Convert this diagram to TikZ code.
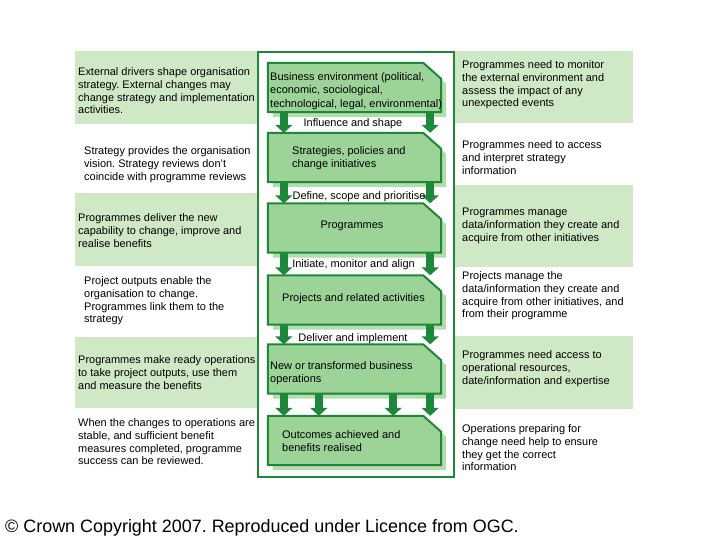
\documentclass[tikz,border=0pt]{standalone}
\usepackage{fontspec}
\setmainfont{Liberation Sans}
\usetikzlibrary{arrows.meta}
\frenchspacing
\definecolor{bandgreen}{RGB}{207,233,199}
\definecolor{boxfill}{RGB}{156,212,152}
\definecolor{shadowgreen}{RGB}{178,221,172}
\definecolor{darkgreen}{RGB}{30,135,58}
\tikzset{
  txt/.style={font=\fontsize{11}{13}\selectfont, align=left, inner sep=0pt, anchor=north west},
  boxtxt/.style={font=\fontsize{11}{13.5}\selectfont, align=left, inner sep=0pt, anchor=north west},
  lbl/.style={font=\fontsize{11}{13}\selectfont, inner sep=0pt},
  boxnode/.style={minimum width=173bp, minimum height=49bp, inner sep=0pt, draw=none},
  boxline/.style={draw=darkgreen, fill=boxfill, line width=2bp, line join=miter},
  bigarrow/.style={draw=darkgreen, line width=8bp, -{Triangle[width=17bp,length=8bp]}},
}
\newcommand\chambox[1]{%
  \fill[shadowgreen] ([xshift=5bp,yshift=-5bp]#1.south west) -- ([xshift=5bp,yshift=-5bp]#1.north west)
    -- ([xshift=-13bp,yshift=-5bp]#1.north east) -- ([xshift=5bp,yshift=-21bp]#1.north east)
    -- ([xshift=5bp,yshift=-5bp]#1.south east) -- cycle;
  \draw[boxline] (#1.south west) -- (#1.north west) -- ([xshift=-18bp]#1.north east)
    -- ([yshift=-16bp]#1.north east) -- (#1.south east) -- cycle;}
\begin{document}
\begin{tikzpicture}[x=1bp,y=-1bp]
\useasboundingbox (0,0) rectangle (720,540);
% bands
\fill[bandgreen] (75,51) rectangle (258,124);
\fill[bandgreen] (75,193) rectangle (258,266);
\fill[bandgreen] (75,337) rectangle (258,408);
\fill[bandgreen] (455,51) rectangle (633,123);
\fill[bandgreen] (455,185) rectangle (633,267);
\fill[bandgreen] (455,336) rectangle (633,409);
% frame
\draw[darkgreen, line width=2bp] (258,52) rectangle (454,477);
% boxes
\node[boxnode] (b1) at (354.5,87.5) {};
\node[boxnode] (b2) at (354.5,157.5) {};
\node[boxnode] (b3) at (354.5,228) {};
\node[boxnode] (b4) at (354.5,300) {};
\node[boxnode] (b5) at (354.5,369) {};
\node[boxnode] (b6) at (354.5,440.5) {};
\chambox{b1}\chambox{b2}\chambox{b3}\chambox{b4}\chambox{b5}\chambox{b6}
% box texts
\node[boxtxt] (t1) at (270,72) {Business environment (political,\\economic, sociological,\\technological, legal, environmental)};
\node[boxtxt] (t2) at (292,146) {Strategies, policies and\\change initiatives};
\node[lbl] (t3) at (352,225.5) {Programmes};
\node[lbl] (t4) at (353.5,298.5) {Projects and related activities};
\node[boxtxt] (t5) at (270,361) {New or transformed business\\operations};
\node[boxtxt] (t6) at (282,430) {Outcomes achieved and\\benefits realised};
% arrows
\foreach \a/\b in {b1/b2,b2/b3,b3/b4,b4/b5}{
  \draw[bigarrow] ([xshift=16bp]\a.south west) -- ([xshift=16bp]\b.north west);
  \draw[bigarrow] ([xshift=-11bp]\a.south east) -- ([xshift=-11bp]\b.north east);
}
\draw[bigarrow] ([xshift=16bp]b5.south west) -- ([xshift=16bp]b6.north west);
\draw[bigarrow] ([xshift=51bp]b5.south west) -- ([xshift=51bp]b6.north west);
\draw[bigarrow] ([xshift=-48bp]b5.south east) -- ([xshift=-48bp]b6.north east);
\draw[bigarrow] ([xshift=-11bp]b5.south east) -- ([xshift=-11bp]b6.north east);
% arrow labels
\node[lbl] (l1) at (353,123.5) {Influence and shape};
\node[lbl] (l2) at (359,196.5) {Define, scope and prioritise};
\node[lbl] (l3) at (353.5,264.5) {Initiate, monitor and align};
\node[lbl] (l4) at (353,338.5) {Deliver and implement};
% left texts
\node[txt] (L1) at (78,67) {External drivers shape organisation\\strategy. External changes may\\change strategy and implementation\\activities.};
\node[txt] (L2) at (84,146) {Strategy provides the organisation\\vision. Strategy reviews don't\\coincide with programme reviews};
\node[txt] (L3) at (78,213) {Programmes deliver the new\\capability to change, improve and\\realise benefits};
\node[txt] (L4) at (84,276) {Project outputs enable the\\organisation to change.\\Programmes link them to the\\strategy};
\node[txt] (L5) at (78,355) {Programmes make ready operations\\to take project outputs, use them\\and measure the benefits};
\node[txt] (L6) at (78,418) {When the changes to operations are\\stable, and sufficient benefit\\measures completed, programme\\success can be reviewed.};
% right texts
\node[txt] (R1) at (462,60) {Programmes need to monitor\\the external environment and\\assess the impact of any\\unexpected events};
\node[txt] (R2) at (462,140) {Programmes need to access\\and interpret strategy\\information};
\node[txt] (R3) at (462,208) {Programmes manage\\data/information they create and\\acquire from other initiatives};
\node[txt] (R4) at (462,271) {Projects manage the\\data/information they create and\\acquire from other initiatives, and\\from their programme};
\node[txt] (R5) at (462,350) {Programmes need access to\\operational resources,\\date/information and expertise};
\node[txt] (R6) at (462,424) {Operations preparing for\\change need help to ensure\\they get the correct\\information};
% copyright
\node[font=\fontsize{18}{20}\selectfont, inner sep=0pt, anchor=base west] (cr) at (5,532) {© Crown Copyright 2007. Reproduced under Licence from OGC.};
\end{tikzpicture}
\end{document}
